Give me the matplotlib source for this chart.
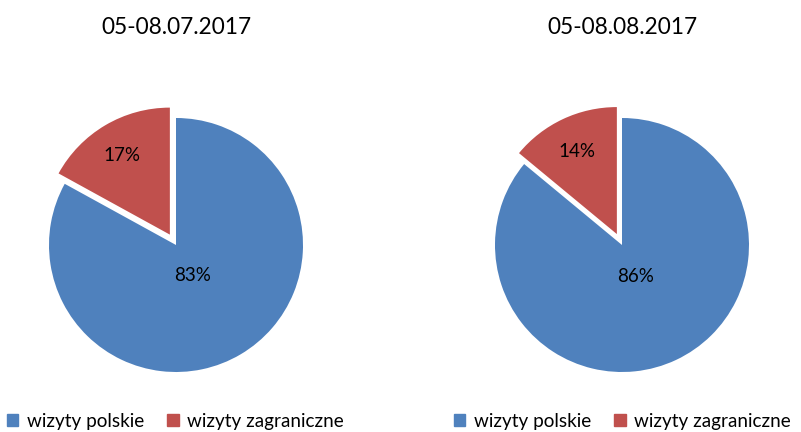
import numpy as np
import matplotlib
matplotlib.use("Agg")
import matplotlib.pyplot as plt
from matplotlib.patches import Patch

# data
titles = ["05-08.07.2017", "05-08.08.2017"]
categories = ["wizyty polskie", "wizyty zagraniczne"]
shares_july = [83, 17]
shares_aug = [86, 14]
colors = ["#4F81BD", "#C0504D"]

plt.rcParams["font.family"] = ["Lato", "DejaVu Sans"]

W, H = 801, 432
fig = plt.figure(figsize=(W / 100, H / 100), dpi=100)
ax = fig.add_axes([0, 0, 1, 1])

radius = 127
centers = [(176, H - 245), (622, H - 245)]
# label distance as fraction of radius, per wedge
label_dist = [0.26, 0.74]

for vals, title, (cx, cy) in zip([shares_july, shares_aug], titles, centers):
    # explode is in data units here, so scale it by the radius
    wedges, _ = ax.pie(vals, colors=colors, startangle=90, counterclock=False,
                       explode=[0, 0.095 * radius], radius=radius, center=(cx, cy),
                       wedgeprops=dict(linewidth=0))
    for w, v, d in zip(wedges, vals, label_dist):
        mid = np.deg2rad((w.theta1 + w.theta2) / 2)
        wx, wy = w.center
        ax.text(wx + d * radius * np.cos(mid), wy + d * radius * np.sin(mid) - 2,
                f"{v}%", ha="center", va="center", fontsize=13.5, color="black")
    ax.text(cx, H - 28, title, ha="center", va="center", fontsize=16.3)

ax.set_xlim(0, W)
ax.set_ylim(0, H)
ax.set_aspect("equal")
ax.axis("off")

handles = [Patch(color=c, label=l) for c, l in zip(colors, categories)]
for x0 in [3, 450]:
    fig.legend(handles=handles, loc="center left", bbox_to_anchor=(x0 / W, 11 / H),
               ncol=2, frameon=False, fontsize=13.6, handlelength=0.6,
               handleheight=0.6, handletextpad=0.45, columnspacing=1.25,
               borderaxespad=0, borderpad=0.2)

fig.savefig("out.png", dpi=100)
